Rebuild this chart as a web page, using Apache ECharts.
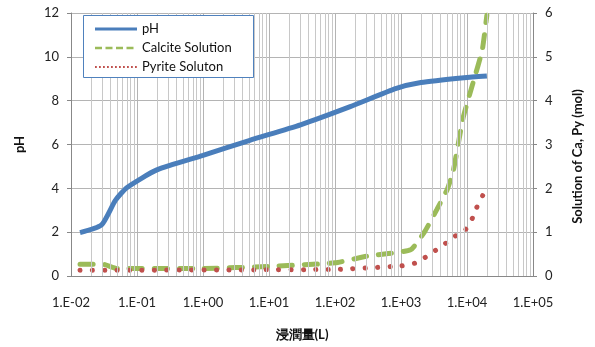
<!DOCTYPE html>
<html>
<head>
<meta charset="utf-8">
<script src="https://cdn.jsdelivr.net/npm/echarts@6/dist/echarts.min.js"></script>
<style>html,body{margin:0;padding:0;background:#fff}#c{width:595px;height:347px}</style>
</head>
<body>
<div id="c"></div>
<script>
// ---- data ----
var phX = [0.0137, 0.029, 0.047, 0.07, 0.2, 1, 5, 30, 170, 850, 2000, 9000, 20000];
var phY = [1.98, 2.33, 3.45, 4.03, 4.84, 5.5, 6.18, 6.9, 7.73, 8.56, 8.83, 9.05, 9.13];

var caX = [0.0137, 0.03, 0.05, 1, 10, 100, 300, 1400, 2300, 3500, 5000, 6200, 8700, 12300, 17000, 20000];
var caY = [0.27, 0.27, 0.17, 0.17, 0.22, 0.3, 0.45, 0.6, 1.02, 1.52, 1.97, 2.4, 3.6, 4.4, 5.15, 5.95];

var pyX = [0.0137, 100, 1000, 1600, 2300, 3300, 4700, 6600, 9500, 12000, 14000, 17500];
var pyY = [0.13, 0.15, 0.23, 0.29, 0.42, 0.58, 0.74, 0.91, 1.06, 1.31, 1.56, 1.85];

var seriesNames = ['pH', 'Calcite Solution', 'Pyrite Soluton'];
var seriesColors = ['#4A7EBB', '#9BBB59', '#C0504D'];
var xName = '浸潤量(L)';
var yLeftName = 'pH';
var yRightName = 'Solution of Ca, Py (mol)';

function pairs(xs, ys) { return xs.map(function (x, i) { return [x, ys[i]]; }); }

// minor grid positions (2..9 x each decade)
var minorLines = [];
for (var d = -2; d <= 4; d++) {
  for (var k = 2; k <= 9; k++) minorLines.push({ xAxis: k * Math.pow(10, d) });
}

var font = 'Lato, "Open Sans", sans-serif';

// legend drawn as graphic elements (line samples + names)
var legendDash = [null, [7, 3.5], [1.8, 2.2]];
var legendWidth = [3, 2.5, 2];
var legendEls = [{
  type: 'rect', left: 83, top: 15, z: 100,
  shape: { width: 170, height: 62 },
  style: { fill: '#fff', stroke: '#4F81BD', lineWidth: 1 }
}];
seriesNames.forEach(function (n, i) {
  var y = 29 + i * 19;
  legendEls.push({
    type: 'line', z: 101,
    shape: { x1: 95, y1: y, x2: 137, y2: y },
    style: { stroke: seriesColors[i], lineWidth: legendWidth[i], lineDash: legendDash[i] }
  });
  legendEls.push({
    type: 'text', z: 101, x: 142, y: y,
    style: { text: n, fill: '#111', font: '13px ' + font, textVerticalAlign: 'middle', verticalAlign: 'middle' }
  });
});

var chart = echarts.init(document.getElementById('c'), null, { renderer: 'canvas' });
chart.setOption({
  animation: false,
  backgroundColor: '#fff',
  textStyle: { fontFamily: font },
  grid: { left: 71, right: 62, top: 13, bottom: 71, containLabel: false },
  graphic: legendEls,
  xAxis: {
    type: 'log', logBase: 10, min: 0.01, max: 100000, interval: 1,
    name: xName, nameLocation: 'middle', nameGap: 52,
    nameTextStyle: { fontFamily: font, fontSize: 13, fontWeight: 'bold', color: '#111' },
    axisLine: { show: true, lineStyle: { color: '#888', width: 1 } },
    axisTick: { show: false },
    axisLabel: {
      fontFamily: font, fontSize: 13, color: '#222', margin: 20,
      formatter: function (v) {
        var e = Math.round(Math.log10(v));
        var a = Math.abs(e);
        return '1.E' + (e < 0 ? '-' : '+') + (a < 10 ? '0' + a : a);
      }
    },
    splitLine: { show: true, lineStyle: { color: '#b4b4b4', width: 1 } }
  },
  yAxis: [{
    type: 'value', min: 0, max: 12, interval: 2, position: 'left',
    name: yLeftName, nameLocation: 'middle', nameGap: 45, nameRotate: 90,
    nameTextStyle: { fontFamily: font, fontSize: 13, fontWeight: 'bold', color: '#111' },
    axisLine: { show: true, lineStyle: { color: '#888', width: 1 } },
    axisTick: { show: true, length: 4, lineStyle: { color: '#888' } },
    axisLabel: { fontFamily: font, fontSize: 13, color: '#222', margin: 12 },
    splitLine: { show: true, lineStyle: { color: '#b4b4b4', width: 1 } }
  }, {
    type: 'value', min: 0, max: 6, interval: 1, position: 'right',
    name: yRightName, nameLocation: 'middle', nameGap: 38, nameRotate: 90,
    nameTextStyle: { fontFamily: font, fontSize: 13, fontWeight: 'bold', color: '#111', padding: [0, 24, 0, 0] },
    axisLine: { show: true, lineStyle: { color: '#888', width: 1 } },
    axisTick: { show: true, length: 4, lineStyle: { color: '#888' } },
    axisLabel: { fontFamily: font, fontSize: 13, color: '#222', margin: 12 },
    splitLine: { show: false }
  }],
  series: [{
    type: 'line', name: '_grid', data: [], xAxisIndex: 0, yAxisIndex: 0, z: 1,
    silent: true,
    markLine: {
      silent: true, symbol: 'none', label: { show: false },
      lineStyle: { color: '#c8c8c8', width: 1, type: 'solid' },
      emphasis: { disabled: true },
      data: minorLines, animation: false
    }
  }, {
    type: 'line', name: seriesNames[0], data: pairs(phX, phY), yAxisIndex: 0, z: 5,
    symbol: 'none', smooth: 0.2, color: seriesColors[0],
    lineStyle: { color: seriesColors[0], width: 5 }
  }, {
    type: 'line', name: seriesNames[1], data: pairs(caX, caY), yAxisIndex: 1, z: 4,
    symbol: 'none', smooth: 0.15, color: seriesColors[1],
    lineStyle: { color: seriesColors[1], width: 5, type: [13, 12], cap: 'round' }
  }, {
    type: 'line', name: seriesNames[2], data: pairs(pyX, pyY), yAxisIndex: 1, z: 4,
    symbol: 'none', smooth: 0.15, color: seriesColors[2],
    lineStyle: { color: seriesColors[2], width: 5, type: [0.1, 12.3], cap: 'round' }
  }]
});
</script>
</body>
</html>
